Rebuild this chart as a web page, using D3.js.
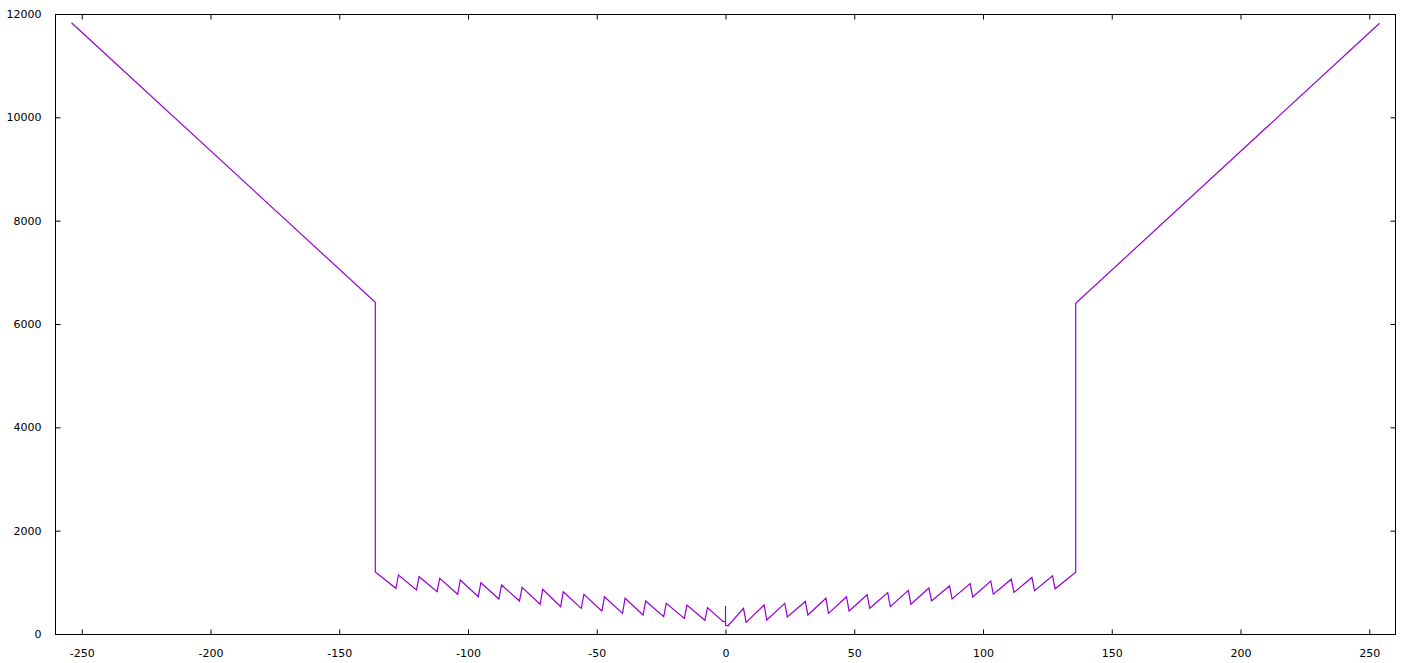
<!DOCTYPE html>
<html>
<head>
<meta charset="utf-8">
<script src="https://cdn.jsdelivr.net/npm/d3@7"></script>
<style>
  html, body { margin: 0; padding: 0; background: #fff; }
  svg { display: block; }
  .tick text { font-family: "DejaVu Sans", Verdana, sans-serif; font-size: 11px; fill: #000; }
</style>
</head>
<body>
<div id="chart"></div>
<script>
// polyline corners (x, y)
var curveX = [
  -254, -136, -136, -128, -127, -120, -119, -112, -111, -104, -103, -96, -95, -88, -87,
  -80, -79, -72, -71, -64, -63, -56, -55, -48, -47, -40, -39, -32, -31, -24, -23,
  -16, -15, -8, -7, -1, 0, 0, 0, 1,
  7, 8, 15, 16, 23, 24, 31, 32, 39, 40, 47, 48, 55, 56, 63, 64, 71, 72, 79, 80,
  87, 88, 95, 96, 103, 104, 111, 112, 119, 120, 127, 128, 136, 136, 254
];
var curveY = [
  11830, 6420, 1200, 884, 1142, 852, 1109, 819, 1078, 768, 1045, 722, 993, 677, 948,
  639, 903, 575, 865, 529, 819, 497, 768, 445, 722, 400, 691, 368, 639, 335, 594,
  303, 561, 265, 510, 245, 235, 540, 170, 160,
  495, 226, 561, 271, 594, 330, 630, 368, 691, 400, 722, 445, 760, 497, 800, 529, 845, 575, 890, 640,
  930, 680, 975, 715, 1025, 770, 1060, 805, 1095, 840, 1125, 875, 1195, 6400, 11820
];

var xTicks = [-250, -200, -150, -100, -50, 0, 50, 100, 150, 200, 250];
var yTicks = [0, 2000, 4000, 6000, 8000, 10000, 12000];

var width = 1408, height = 663;
var margin = {top: 14, right: 13, bottom: 29, left: 56};

var svg = d3.select("#chart").append("svg")
    .attr("width", width)
    .attr("height", height);

var x = d3.scaleLinear()
    .domain([-260, 260])
    .range([margin.left, width - margin.right]);

var y = d3.scaleLinear()
    .domain([0, 12000])
    .range([height - margin.bottom, margin.top]);

var tickLen = 5;
var plain = function(d) { return String(d); }; // gnuplot style: no commas, plain minus

// bottom + top axes (ticks point inward)
svg.append("g")
    .attr("transform", "translate(0," + (height - margin.bottom + 0.5) + ")")
    .call(d3.axisBottom(x).tickValues(xTicks).tickSize(-tickLen).tickPadding(tickLen + 10).tickFormat(plain))
    .call(function(g) { g.select(".domain").remove(); });

svg.append("g")
    .attr("transform", "translate(0," + (margin.top + 0.5) + ")")
    .call(d3.axisTop(x).tickValues(xTicks).tickSize(-tickLen).tickFormat(""))
    .call(function(g) { g.select(".domain").remove(); });

// left + right axes
svg.append("g")
    .attr("transform", "translate(" + (margin.left - 0.5) + ",0)")
    .call(d3.axisLeft(y).tickValues(yTicks).tickSize(-tickLen).tickPadding(tickLen + 9).tickFormat(plain))
    .call(function(g) { g.select(".domain").remove(); });

svg.append("g")
    .attr("transform", "translate(" + (width - margin.right + 0.5) + ",0)")
    .call(d3.axisRight(y).tickValues(yTicks).tickSize(-tickLen).tickFormat(""))
    .call(function(g) { g.select(".domain").remove(); });

svg.selectAll(".tick line").attr("stroke", "#000");

// frame
svg.append("rect")
    .attr("x", margin.left - 0.5)
    .attr("y", margin.top + 0.5)
    .attr("width", width - margin.left - margin.right + 1)
    .attr("height", height - margin.top - margin.bottom)
    .attr("fill", "none")
    .attr("stroke", "#000")
    .attr("stroke-width", 1);

var pts = curveX.map(function(v, i) { return [v, curveY[i]]; });

var line = d3.line()
    .x(function(d) { return x(d[0]); })
    .y(function(d) { return y(d[1]); });

svg.append("path")
    .datum(pts)
    .attr("d", line)
    .attr("fill", "none")
    .attr("stroke", "#9400d3")
    .attr("stroke-width", 1.2)
    .attr("stroke-linejoin", "miter");
</script>
</body>
</html>
